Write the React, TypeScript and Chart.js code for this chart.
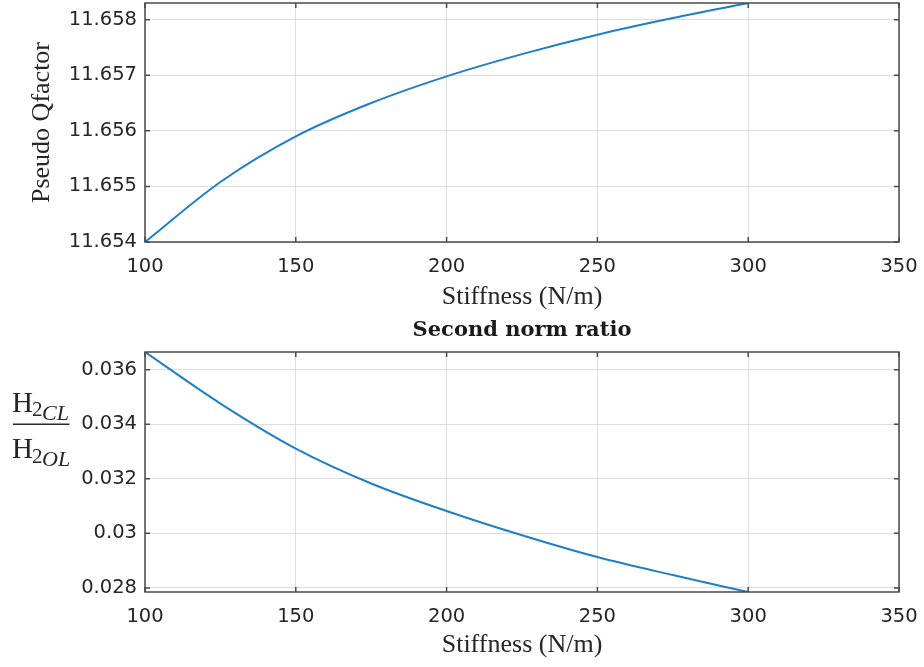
import React, { useEffect, useRef } from 'react';
import { Chart, registerables } from 'chart.js';

Chart.register(...registerables);

// ---- data ----
const stiffness = [100, 125, 150, 175, 200, 225, 250, 275, 300];
const qfactor = [11.654, 11.65508, 11.6559, 11.6565, 11.65698, 11.65738, 11.65773, 11.65803, 11.6583];
const normRatio = [0.03665, 0.03476, 0.03311, 0.03183, 0.03082, 0.02993, 0.02913, 0.02847, 0.02785];

const xTicks = [100, 150, 200, 250, 300, 350];
const xTickLabels = ['100', '150', '200', '250', '300', '350'];
const qTicks = [11.654, 11.655, 11.656, 11.657, 11.658];
const qTickLabels = ['11.654', '11.655', '11.656', '11.657', '11.658'];
const rTicks = [0.028, 0.03, 0.032, 0.034, 0.036];
const rTickLabels = ['0.028', '0.03', '0.032', '0.034', '0.036'];

const xLabel = 'Stiffness (N/m)';
const qLabel = 'Pseudo Qfactor';
const rTitle = 'Second norm ratio';

const LINE = '#1f7fc6';
const GRID = '#dedede';
const BOX = '#4a4a4a';
const TEXT = '#262626';
const TICK_FONT = { family: 'DejaVu Sans', size: 19.5 };
const LABEL_FONT = { family: 'Liberation Serif', size: 26 };

const boxPlugin = {
  id: 'matlabBox',
  afterDraw(chart: any) {
    const { ctx, chartArea: a, scales } = chart;
    ctx.save();
    ctx.strokeStyle = BOX;
    ctx.lineWidth = 1.5;
    ctx.strokeRect(a.left, a.top, a.right - a.left, a.bottom - a.top);
    const L = 5;
    ctx.beginPath();
    scales.x.ticks.forEach((t: any) => {
      const px = scales.x.getPixelForValue(t.value);
      ctx.moveTo(px, a.bottom);
      ctx.lineTo(px, a.bottom - L);
      ctx.moveTo(px, a.top);
      ctx.lineTo(px, a.top + L);
    });
    scales.y.ticks.forEach((t: any) => {
      const py = scales.y.getPixelForValue(t.value);
      ctx.moveTo(a.left, py);
      ctx.lineTo(a.left + L, py);
      ctx.moveTo(a.right, py);
      ctx.lineTo(a.right - L, py);
    });
    ctx.stroke();
    ctx.restore();
  },
};

const fractionPlugin = {
  id: 'fractionLabel',
  afterDraw(chart: any) {
    const { ctx } = chart;
    ctx.save();
    ctx.fillStyle = TEXT;
    ctx.textBaseline = 'alphabetic';
    ctx.textAlign = 'left';
    // numerator
    ctx.font = '29px "Liberation Serif"';
    ctx.fillText('H', 12, 101.7);
    ctx.font = '21px "Liberation Serif"';
    ctx.fillText('2', 32, 106);
    ctx.font = 'italic 22px "Liberation Serif"';
    ctx.fillText('CL', 42, 110);
    // bar
    ctx.strokeStyle = TEXT;
    ctx.lineWidth = 1.5;
    ctx.beginPath();
    ctx.moveTo(13, 114.3);
    ctx.lineTo(69.5, 114.3);
    ctx.stroke();
    // denominator
    ctx.font = '29px "Liberation Serif"';
    ctx.fillText('H', 12, 148);
    ctx.font = '21px "Liberation Serif"';
    ctx.fillText('2', 32, 153);
    ctx.font = 'italic 22px "Liberation Serif"';
    ctx.fillText('OL', 42, 156);
    ctx.restore();
  },
};

function xScale(height: number, titlePadBottom: number) {
  return {
    type: 'linear',
    min: 100,
    max: 350,
    afterBuildTicks: (s: any) => {
      s.ticks = xTicks.map((v) => ({ value: v }));
    },
    afterFit: (s: any) => {
      s.height = height;
      s.paddingLeft = 0;
      s.paddingRight = 0;
    },
    ticks: {
      color: TEXT,
      font: TICK_FONT,
      padding: 13,
      maxRotation: 0,
      autoSkip: false,
      callback: (v: any) => xTickLabels[xTicks.indexOf(v)] ?? String(v),
    },
    grid: { color: GRID, lineWidth: 1, drawTicks: false },
    border: { display: false },
    title: {
      display: true,
      text: xLabel,
      color: TEXT,
      font: LABEL_FONT,
      padding: { top: 0, bottom: titlePadBottom },
    },
  };
}

function yScale(min: number, max: number, ticks: number[], labels: string[], title: any) {
  return {
    type: 'linear',
    min,
    max,
    afterBuildTicks: (s: any) => {
      s.ticks = ticks.map((v) => ({ value: v }));
    },
    afterFit: (s: any) => {
      s.width = 145;
      s.paddingTop = 0;
      s.paddingBottom = 0;
    },
    ticks: {
      color: TEXT,
      font: TICK_FONT,
      padding: 8,
      autoSkip: false,
      callback: (v: any) => {
        const i = ticks.findIndex((t) => Math.abs(t - v) < 1e-9);
        return i >= 0 ? labels[i] : '';
      },
    },
    grid: { color: GRID, lineWidth: 1, drawTicks: false },
    border: { display: false },
    title,
  };
}

export default function App() {
  const topRef = useRef<HTMLCanvasElement>(null);
  const botRef = useRef<HTMLCanvasElement>(null);

  useEffect(() => {
    const top = new Chart(topRef.current as HTMLCanvasElement, {
      type: 'line',
      data: {
        datasets: [
          {
            data: stiffness.map((x, i) => ({ x, y: qfactor[i] })),
            borderColor: LINE,
            borderWidth: 2,
            pointRadius: 0,
            fill: false,
            cubicInterpolationMode: 'monotone',
          },
        ],
      },
      options: {
        animation: false,
        responsive: false,
        devicePixelRatio: 1,
        layout: { padding: { left: 0, right: 25, top: 3, bottom: 0 } },
        plugins: { legend: { display: false }, tooltip: { enabled: false } },
        scales: {
          x: xScale(76, 5),
          y: yScale(11.654, 11.6583, qTicks, qTickLabels, {
            display: true,
            text: qLabel,
            color: TEXT,
            font: LABEL_FONT,
            padding: { top: 27, bottom: 0 },
          }),
        },
      } as any,
      plugins: [boxPlugin],
    });

    const bot = new Chart(botRef.current as HTMLCanvasElement, {
      type: 'line',
      data: {
        datasets: [
          {
            data: stiffness.map((x, i) => ({ x, y: normRatio[i] })),
            borderColor: LINE,
            borderWidth: 2,
            pointRadius: 0,
            fill: false,
            cubicInterpolationMode: 'monotone',
          },
        ],
      },
      options: {
        animation: false,
        responsive: false,
        devicePixelRatio: 1,
        layout: { padding: { left: 0, right: 25, top: 0, bottom: 0 } },
        plugins: {
          legend: { display: false },
          tooltip: { enabled: false },
          title: {
            display: true,
            text: rTitle,
            fullSize: false,
            color: '#1a1a1a',
            font: { family: 'DejaVu Serif', size: 21, weight: 'bold' },
            padding: { top: 8, bottom: 8.8 },
          },
        },
        scales: {
          x: xScale(75, 6),
          y: yScale(0.02785, 0.03665, rTicks, rTickLabels, { display: false }),
        },
      } as any,
      plugins: [boxPlugin, fractionPlugin],
    });

    return () => {
      top.destroy();
      bot.destroy();
    };
  }, []);

  return (
    <div style={{ position: 'absolute', left: 0, top: 0, width: 924, height: 667, background: '#fff' }}>
      <canvas ref={topRef} width={924} height={318} style={{ position: 'absolute', left: 0, top: 0 }} />
      <canvas ref={botRef} width={924} height={357} style={{ position: 'absolute', left: 0, top: 310 }} />
    </div>
  );
}
